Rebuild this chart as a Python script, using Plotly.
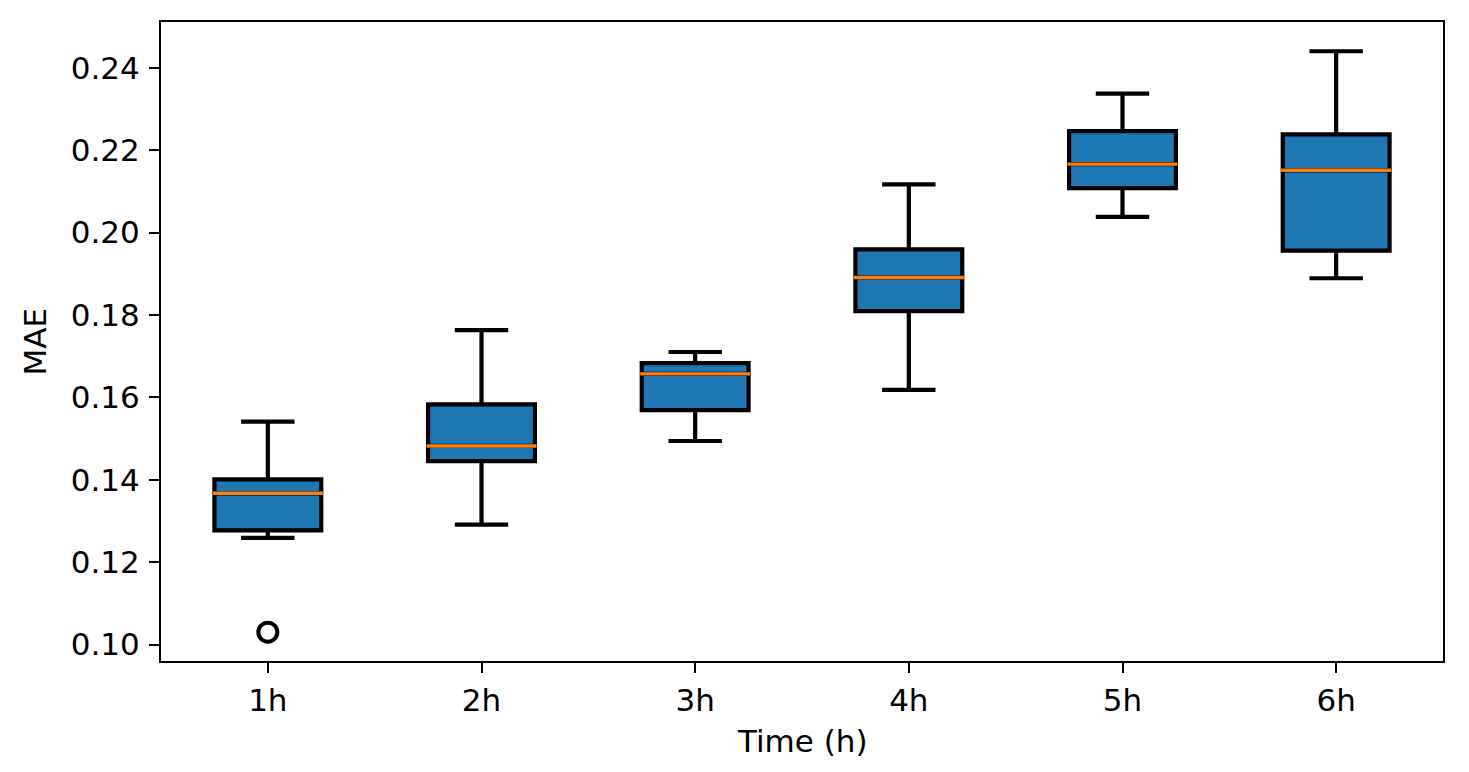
import plotly.graph_objects as go

categories = ["1h", "2h", "3h", "4h", "5h", "6h"]
lower_whisker = [0.1259, 0.1291, 0.1494, 0.1618, 0.2038, 0.1889]
q1_values = [0.1277, 0.1445, 0.1569, 0.1809, 0.2108, 0.1956]
medians = [0.1367, 0.1482, 0.1657, 0.1891, 0.2166, 0.2151]
q3_values = [0.1401, 0.1583, 0.1683, 0.1959, 0.2246, 0.2238]
upper_whisker = [0.1541, 0.1763, 0.1710, 0.2117, 0.2337, 0.2440]
outlier_x = ["1h"]
outlier_y = [0.1030]
y_ticks = [0.10, 0.12, 0.14, 0.16, 0.18, 0.20, 0.22, 0.24]

FONT = "DejaVu Sans"
FS = 31
OFF = 8  # page body margin
W, H = 1469 - 2 * OFF, 772 - 2 * OFF
# plot area in window pixels: x 161..1443, y 22..661
PX0, PX1, PY0, PY1 = 161 - OFF, 1443 - OFF, 22 - OFF, 661 - OFF
L, R, T, B = PX0, W - PX1, PY0, H - PY1
PW, PH = PX1 - PX0, PY1 - PY0

fig = go.Figure()
fig.add_trace(go.Box(
    x=categories, q1=q1_values, median=medians, q3=q3_values,
    lowerfence=lower_whisker, upperfence=upper_whisker,
    boxpoints=False, width=0.5, whiskerwidth=0.5,
    fillcolor="#1f77b4", line=dict(color="black", width=4.2),
    offsetgroup="a", showlegend=False, hoverinfo="skip",
))
fig.add_trace(go.Box(
    x=categories, q1=medians, median=medians, q3=medians,
    lowerfence=medians, upperfence=medians,
    boxpoints=False, width=0.515, whiskerwidth=0,
    fillcolor="rgba(0,0,0,0)", line=dict(color="#ff7f0e", width=3.4),
    offsetgroup="a", showlegend=False, hoverinfo="skip",
))
fig.add_trace(go.Scatter(
    x=outlier_x, y=outlier_y, mode="markers",
    marker=dict(symbol="circle-open", size=19, color="black",
                line=dict(width=4, color="black")),
    showlegend=False, hoverinfo="skip",
))

axis_common = dict(
    showline=True, linecolor="black", linewidth=2.2, mirror=True,
    ticks="outside", ticklen=10, tickwidth=2.2, tickcolor="black",
    showgrid=False, zeroline=False,
    tickfont=dict(family=FONT, size=FS, color="black"),
)

fig.update_layout(
    width=W, height=H,
    margin=dict(l=L, r=R, t=T, b=B, pad=0),
    paper_bgcolor="white", plot_bgcolor="white",
    boxmode="overlay",
    font=dict(family=FONT, size=FS, color="black"),
    xaxis=dict(type="category", categoryorder="array", categoryarray=categories,
               range=[-0.5, 5.5], ticklabelstandoff=1, **axis_common),
    yaxis=dict(range=[0.0960, 0.2511], tickvals=y_ticks,
               ticktext=[f"{v:.2f}" for v in y_ticks], ticklabelstandoff=3,
               **axis_common),
    annotations=[
        dict(text="MAE", xref="paper", yref="paper", x=(34 - OFF - L) / PW, y=0.5,
             textangle=-90, showarrow=False, xanchor="center", yanchor="middle",
             font=dict(family=FONT, size=FS, color="black")),
        dict(text="Time (h)", xref="paper", yref="paper", x=0.5,
             y=-(741 - OFF - PY1) / PH,
             showarrow=False, xanchor="center", yanchor="middle",
             font=dict(family=FONT, size=FS, color="black")),
    ],
)

fig.write_html("out.html")
